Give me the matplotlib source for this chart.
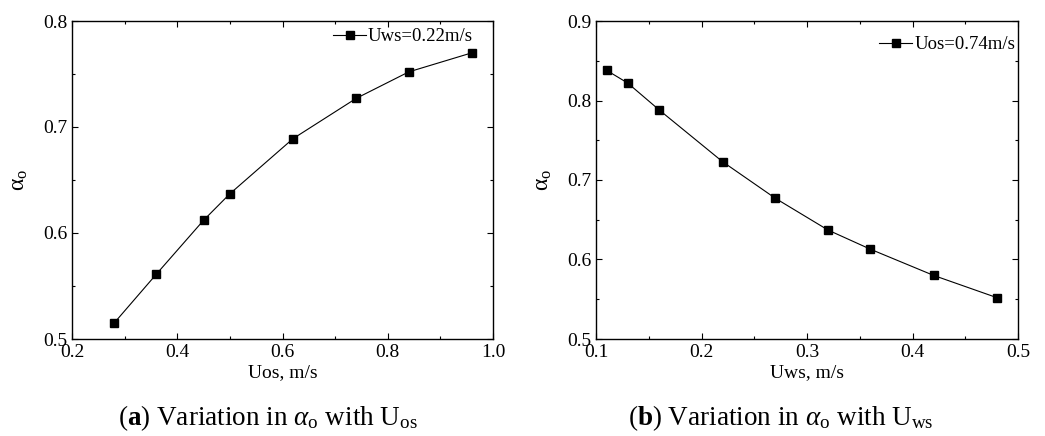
import numpy as np
import matplotlib
matplotlib.use("Agg")
import matplotlib.pyplot as plt
from matplotlib.ticker import MultipleLocator

plt.rcParams['font.family'] = ['Liberation Serif', 'DejaVu Serif']
plt.rcParams['mathtext.fontset'] = 'custom'
plt.rcParams['mathtext.rm'] = 'Liberation Serif'
plt.rcParams['mathtext.it'] = 'Liberation Serif:italic'
plt.rcParams['mathtext.bf'] = 'Liberation Serif:bold'

# panel (a): alpha_o vs Uos at Uws = 0.22 m/s
uos = [0.28, 0.36, 0.45, 0.50, 0.62, 0.74, 0.84, 0.96]
alpha_a = [0.515, 0.561, 0.612, 0.637, 0.689, 0.727, 0.752, 0.770]

# panel (b): alpha_o vs Uws at Uos = 0.74 m/s
uws = [0.11, 0.13, 0.16, 0.22, 0.27, 0.32, 0.36, 0.42, 0.48]
alpha_b = [0.838, 0.822, 0.788, 0.723, 0.677, 0.637, 0.613, 0.580, 0.552]

fig = plt.figure(figsize=(10.45, 4.36), dpi=100)
W, H = 1045, 436
ax1 = fig.add_axes([72 / W, 1 - 339 / H, (493 - 72) / W, (339 - 21) / H])
ax2 = fig.add_axes([596 / W, 1 - 339 / H, (1018 - 596) / W, (339 - 21) / H])

def style(ax, xlim, ylim, xmaj, xmin):
	ax.set_xlim(*xlim)
	ax.set_ylim(*ylim)
	ax.xaxis.set_major_locator(MultipleLocator(xmaj))
	ax.xaxis.set_minor_locator(MultipleLocator(xmin))
	ax.yaxis.set_major_locator(MultipleLocator(0.1))
	ax.yaxis.set_minor_locator(MultipleLocator(0.05))
	ax.tick_params(which='both', direction='in', top=True, right=True, labelsize=14)
	ax.tick_params(which='major', length=4, width=0.8)
	ax.tick_params(which='minor', length=2.5, width=0.8)
	for s in ax.spines.values():
		s.set_linewidth(1.0)
	ax.set_ylabel(r'$\mathrm{\alpha_o}$', fontsize=17, labelpad=9)

ax1.plot(uos, alpha_a, '-s', color='black', lw=0.8, ms=6, label='Uws=0.22m/s')
style(ax1, (0.2, 1.0), (0.5, 0.8), 0.2, 0.1)
ax1.xaxis.set_major_formatter(lambda v, p: f'{v:.1f}')
ax1.set_xlabel('Uos, m/s', fontsize=14, labelpad=2)
ax1.legend(loc='center right', bbox_to_anchor=(0.952, 0.950), frameon=False,
	fontsize=13.5, handlelength=1.75, handletextpad=0.1, borderaxespad=0, borderpad=0)

ax2.plot(uws, alpha_b, '-s', color='black', lw=0.8, ms=6, label='Uos=0.74m/s')
style(ax2, (0.1, 0.5), (0.5, 0.9), 0.1, 0.05)
ax2.set_xlabel('Uws, m/s', fontsize=14, labelpad=2)
ax2.legend(loc='center right', bbox_to_anchor=(0.993, 0.925), frameon=False,
	fontsize=13.5, handlelength=1.75, handletextpad=0.1, borderaxespad=0, borderpad=0)

fig.text(268 / W, 1 - 418 / H, r'($\mathbf{a}$) Variation in $\mathit{\alpha}$$_\mathrm{o}$ with U$_\mathrm{os}$',
	ha='center', va='center', fontsize=19.5)
fig.text(781 / W, 1 - 418 / H, r'($\mathbf{b}$) Variation in $\mathit{\alpha}$$_\mathrm{o}$ with U$_\mathrm{ws}$',
	ha='center', va='center', fontsize=19.5)

fig.savefig('out.png', dpi=100)
